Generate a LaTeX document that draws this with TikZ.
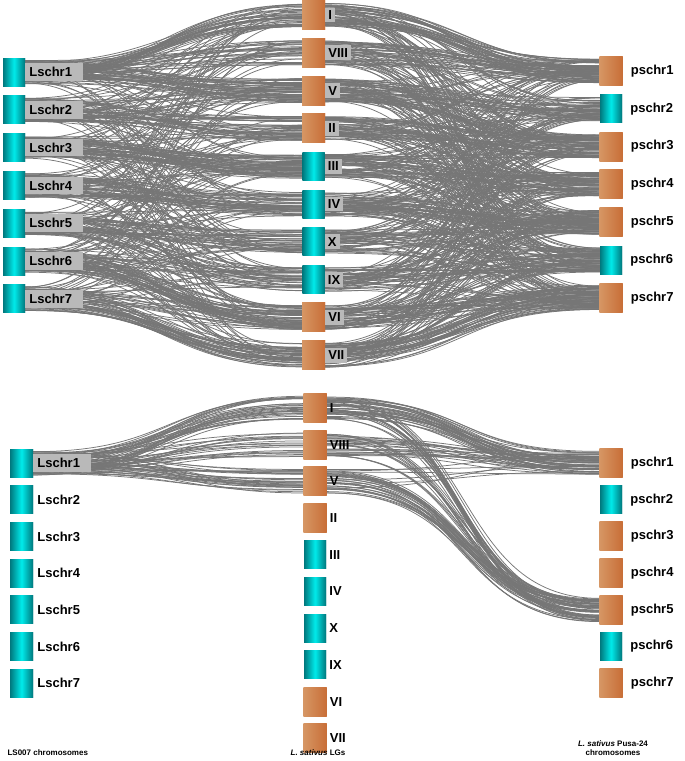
\documentclass[tikz,border=0pt]{standalone}
\usepackage{fontspec}
\setmainfont{Liberation Sans}
\usetikzlibrary{calc}
\definecolor{ribbon-gray}{RGB}{118,118,118}
\definecolor{cyan-dark}{RGB}{0,120,125}
\definecolor{cyan-light}{RGB}{0,235,235}
\definecolor{orange-light}{RGB}{214,150,100}
\definecolor{orange-dark}{RGB}{200,110,55}
\tikzset{
	cyn/.style={rectangle,minimum width=22pt,minimum height=28pt,inner sep=0pt,left color=cyan-dark,right color=cyan-dark,middle color=cyan-light},
	org/.style={rectangle,minimum width=23pt,minimum height=29pt,inner sep=0pt,left color=orange-light,right color=orange-dark},
	glab/.style={anchor=west,fill=gray!55,inner sep=4pt,font=\bfseries\fontsize{13}{15}\selectfont},
	plab/.style={anchor=west,inner sep=3pt,font=\bfseries\fontsize{13}{15}\selectfont},
	link/.style={ribbon-gray,line width=0.75pt},
	caption/.style={font=\bfseries\fontsize{8}{9.5}\selectfont,align=center}
}
% Syntax: \ribbons{from prefix}{to prefix}{rows i/{counts}}{spread}{bend}
\newcommand{\ribbons}[5]{
	\foreach \i/\row in {#3} {
		\foreach \n [count=\j] in \row {
			\ifnum\n>0
			\foreach \k in {1,...,\n} {
				\pgfmathsetmacro{\a}{rand*#4}
				\pgfmathsetmacro{\b}{rand*#4}
				\draw[link] ($(#1\i.east)+(0,\a)$) .. controls +(#5,0) and +(-#5,0) .. ($(#2\j.west)+(0,\b)$);
			}
			\fi
		}
	}
}
\begin{document}
\begin{tikzpicture}[x=1pt,y=-1pt]
\useasboundingbox (0,0) rectangle (685,761);
\pgfmathsetseed{7}
% top panel nodes
\foreach \i in {1,...,7} {
	\node[cyn] (L\i) at (14,{72+37.8*(\i-1)}) {};
}
\foreach \r/\c [count=\j] in {I/org,VIII/org,V/org,II/org,III/cyn,IV/cyn,X/cyn,IX/cyn,VI/org,VII/org} {
	\node[\c] (M\j) at (313.5,{15+37.8*(\j-1)}) {};
}
\foreach \c [count=\i] in {org,cyn,org,org,org,cyn,org} {
	\node[\c] (R\i) at (611,{71+37.8*(\i-1)}) {};
}
% top ribbons, left to middle
\ribbons{L}{M}{1/{30,20,35,3,2,2,2,2,1,1},2/{4,5,15,30,3,3,2,2,2,1},3/{3,3,3,5,45,5,3,3,2,2},4/{2,3,3,3,5,35,5,3,3,2},5/{2,2,2,3,3,5,25,18,5,3},6/{2,2,2,2,3,3,5,12,35,5},7/{2,2,2,2,2,3,3,5,15,35}}{12}{140}
% top ribbons, middle to right
\ribbons{M}{R}{1/{35,5,5,5,5,5,3},2/{30,5,5,5,5,5,3},3/{5,22,22,5,5,5,5},4/{5,5,28,10,5,5,5},5/{5,5,10,28,10,5,5},6/{5,5,5,10,28,10,5},7/{3,5,5,5,15,15,5},8/{3,5,5,5,10,22,5},9/{3,3,5,5,10,10,28},10/{3,3,3,5,5,10,35}}{12}{140}
% top boxes drawn over ribbons
\foreach \i in {1,...,7} {
	\node[cyn] at (L\i) {};
	\node[glab,text width=50pt] at (L\i.east) {Lschr\i};
}
\foreach \r/\c [count=\j] in {I/org,VIII/org,V/org,II/org,III/cyn,IV/cyn,X/cyn,IX/cyn,VI/org,VII/org} {
	\node[\c] at (M\j) {};
	\node[glab,inner sep=3pt] at (M\j.east) {\r};
}
\foreach \c [count=\i] in {org,cyn,org,org,org,cyn,org} {
	\node[\c] at (R\i) {};
	\node[plab] at ([xshift=5pt]R\i.east) {pschr\i};
}
% bottom panel nodes
\foreach \i in {1,...,7} {
	\node[cyn,minimum width=23pt] (bL\i) at (21.5,{463+36.7*(\i-1)}) {};
}
\foreach \r/\c [count=\j] in {I/org,VIII/org,V/org,II/org,III/cyn,IV/cyn,X/cyn,IX/cyn,VI/org,VII/org} {
	\node[\c] (bM\j) at (315,{408+36.7*(\j-1)}) {};
}
\foreach \c [count=\i] in {org,cyn,org,org,org,cyn,org} {
	\node[\c] (bR\i) at (611,{463+36.7*(\i-1)}) {};
}
% bottom ribbons
\ribbons{bL}{bM}{1/{30,20,30}}{12}{140}
\ribbons{bM}{bR}{1/{35,0,0,0,18},2/{20,0,0,0,12},3/{6,0,0,0,30}}{12}{150}
% bottom boxes and labels
\foreach \i in {1,...,7} {
	\node[cyn,minimum width=23pt] at (bL\i) {};
}
\node[glab,text width=50pt] at (bL1.east) {Lschr1};
\foreach \i in {2,...,7} {
	\node[plab] at ([xshift=1pt]bL\i.east) {Lschr\i};
}
\foreach \r/\c [count=\j] in {I/org,VIII/org,V/org,II/org,III/cyn,IV/cyn,X/cyn,IX/cyn,VI/org,VII/org} {
	\node[\c] at (bM\j) {};
	\node[plab] at (bM\j.east) {\r};
}
\foreach \c [count=\i] in {org,cyn,org,org,org,cyn,org} {
	\node[\c] at (bR\i) {};
	\node[plab] at ([xshift=5pt]bR\i.east) {pschr\i};
}
% captions
\node[caption,anchor=west] (capL) at (4,753) {LS007 chromosomes};
\node[caption] (capM) at (318,753) {\textit{L. sativus} LGs};
\node[caption] (capR) at (613,748) {\textit{L. sativus} Pusa-24\\chromosomes};
\end{tikzpicture}
\end{document}
